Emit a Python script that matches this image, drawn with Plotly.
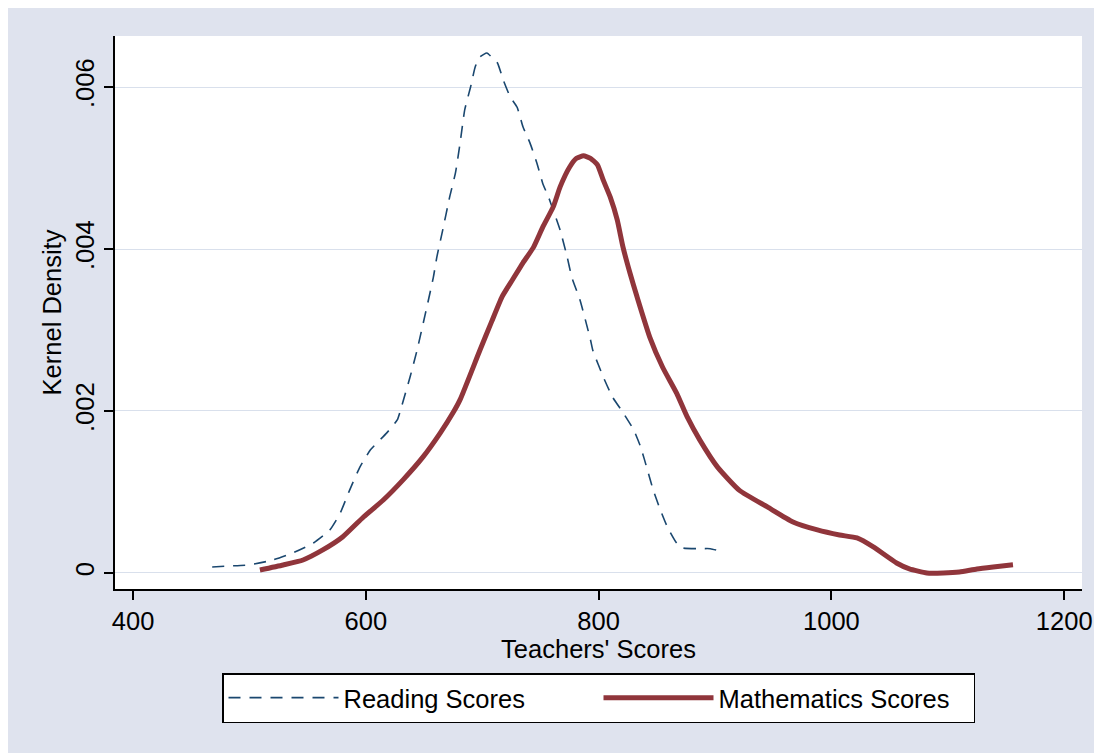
import plotly.graph_objects as go

# Reading scores kernel density (dashed navy)
reading_x = [468, 483, 500, 520, 537, 555, 569, 578, 586, 595, 604, 618, 627, 631,
             638, 644, 658, 661, 666, 672, 677, 681, 685, 690, 694, 698, 704, 708,
             713, 718, 724, 730, 735, 741, 747, 752, 757, 761, 767, 773, 777, 784,
             793, 795, 804, 812, 821, 830, 836, 842, 847, 853, 859, 867, 872, 885,
             896, 904]
reading_y = [0.000074, 0.000086, 0.0001, 0.00016, 0.000247, 0.00037, 0.00053, 0.00074,
             0.00102, 0.00131, 0.00152, 0.00173, 0.00189, 0.00207, 0.00242, 0.00275,
             0.00365, 0.0039, 0.00423, 0.00464, 0.00494, 0.00531, 0.00572, 0.0060,
             0.00625, 0.00637, 0.00642, 0.00637, 0.0063, 0.00609, 0.00588, 0.00575,
             0.00551, 0.00531, 0.00506, 0.00481, 0.00464, 0.00448, 0.00423, 0.0039,
             0.00365, 0.00337, 0.00288, 0.00275, 0.00242, 0.00217, 0.00198, 0.00177,
             0.00156, 0.00127, 0.00102, 0.00078, 0.00057, 0.00037, 0.00031, 0.0003,
             0.0003, 0.00027]

# Mathematics scores kernel density (solid maroon)
math_x = [509, 529, 546, 563, 580, 598, 615, 632, 649, 664, 675, 681, 698, 708,
          717, 726, 735, 744, 752, 761, 767, 775, 781, 787, 793, 799, 804, 810,
          816, 821, 827, 833, 844, 855, 867, 876, 887, 902, 921, 945, 967, 988,
          1007, 1022, 1036, 1056, 1067, 1082, 1096, 1110, 1125, 1139, 1156]
math_y = [0.000037, 0.000099, 0.00016, 0.000284, 0.000444, 0.000691, 0.000901, 0.00115,
          0.00143, 0.00173, 0.00198, 0.00214, 0.00275, 0.0031, 0.00341, 0.00362,
          0.00383, 0.00402, 0.00427, 0.00452, 0.00477, 0.00501, 0.00512, 0.00515,
          0.00512, 0.00504, 0.00485, 0.00464, 0.00436, 0.00402, 0.0037, 0.00341,
          0.00291, 0.00254, 0.00222, 0.00193, 0.00164, 0.00131, 0.00102, 0.000815,
          0.00063, 0.000531, 0.000469, 0.000432, 0.000321, 0.000123, 0.00005, 0.0,
          0.0, 0.000012, 0.00005, 0.000074, 0.0001]

x_ticks = [400, 600, 800, 1000, 1200]
y_ticks = [0, 0.002, 0.004, 0.006]
y_tick_text = ["0", ".002", ".004", ".006"]

FONT = "Liberation Sans, Arial, sans-serif"
FS = 25.5

fig = go.Figure()
fig.add_trace(go.Scatter(
    x=reading_x, y=reading_y, mode="lines", name="Reading Scores",
    line=dict(color="#1a476f", width=1.6, dash="12px,9px", shape="spline", smoothing=0.5),
))
fig.add_trace(go.Scatter(
    x=math_x, y=math_y, mode="lines", name="Mathematics Scores",
    line=dict(color="#90353b", width=5, shape="spline", smoothing=0.5),
))

fig.update_layout(
    width=1102, height=753,
    margin=dict(l=107, r=28, t=28, b=172),
    paper_bgcolor="#dfe3ee",
    plot_bgcolor="#ffffff",
    font=dict(family=FONT, size=FS, color="#000000"),
    showlegend=True,
    legend=dict(
        orientation="h", x=0.5, xanchor="center", y=-0.152, yanchor="top",
        bgcolor="#ffffff", bordercolor="#000000", borderwidth=1.5,
        font=dict(family=FONT, size=FS, color="#000000"),
        entrywidth=250, itemwidth=110,
    ),
    xaxis=dict(
        range=[384.5, 1215.3], tickvals=x_ticks,
        showgrid=False, zeroline=False,
        showline=True, linecolor="#000000", linewidth=1.5,
        ticks="outside", ticklen=9, tickwidth=1.5, tickcolor="#000000",
        title=dict(text="Teachers' Scores", standoff=0, font=dict(size=FS)),
    ),
    yaxis=dict(
        range=[-0.000198, 0.00663], tickvals=y_ticks, ticktext=y_tick_text,
        tickangle=-90,
        showgrid=True, gridcolor="#d9e0ec", gridwidth=1.2, zeroline=False,
        showline=True, linecolor="#000000", linewidth=1.5,
        ticks="outside", ticklen=9, tickwidth=1.5, tickcolor="#000000",
        title=dict(text="Kernel Density", standoff=2, font=dict(size=FS)),
    ),
)

fig.write_html("out.html")
